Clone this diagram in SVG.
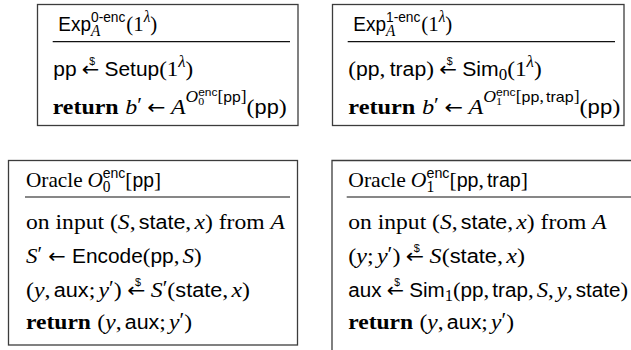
<svg xmlns="http://www.w3.org/2000/svg" width="631" height="350" viewBox="0 0 631 350">
<style>
.box{fill:none;stroke:#3c3c3c;stroke-width:1.3}
.sep{stroke:#111;stroke-width:1.2}
text{font-family:"Liberation Serif","DejaVu Serif",serif;font-size:22px;fill:#000}
.r{font-family:"Liberation Serif","DejaVu Serif",serif}
.i{font-family:"Liberation Serif","DejaVu Serif",serif;font-style:italic}
.b{font-family:"Liberation Serif","DejaVu Serif",serif;font-weight:bold}
.s{font-family:"Liberation Sans","DejaVu Sans",sans-serif;font-size:20px}
.ar{font-family:"DejaVu Sans",sans-serif;font-size:20px}
.d{font-family:"Liberation Sans","DejaVu Sans",sans-serif;font-size:10px}
.pr{font-family:"Liberation Serif","DejaVu Serif",serif;font-size:20px}
.sc{font-size:16px}
.ss{font-size:14.5px}
.sss{font-size:11px}
</style>
<rect width="631" height="350" fill="#fff"/>
<g id="exp0">
<rect class="box" x="37.5" y="4.5" width="260.5" height="121"/>
<line class="sep" x1="52.7" y1="41.7" x2="290" y2="41.7"/>
<text x="58.3" y="31" textLength="99" lengthAdjust="spacingAndGlyphs"><tspan class="s">Exp</tspan><tspan class="i sc" dy="5">A</tspan><tspan class="s ss" dx="-9.8" dy="-14">0-enc</tspan><tspan class="r" dx="1" dy="9">(1</tspan><tspan class="i sc" dy="-9">λ</tspan><tspan class="r" dy="9">)</tspan></text>
<text x="53.3" y="76" textLength="140" lengthAdjust="spacingAndGlyphs"><tspan class="s">pp</tspan><tspan class="ar" dx="5">←</tspan><tspan class="d" dx="-9.6" dy="-11">$</tspan><tspan class="s" dx="9" dy="11">Setup</tspan><tspan class="r">(1</tspan><tspan class="i sc" dy="-9">λ</tspan><tspan class="r" dy="9">)</tspan></text>
<text x="52.7" y="114" textLength="234" lengthAdjust="spacingAndGlyphs"><tspan class="b">return</tspan><tspan class="i" dx="6">b</tspan><tspan class="pr" dy="-2">′</tspan><tspan class="ar" dx="5" dy="2">←</tspan><tspan class="i" dx="5">A</tspan><tspan class="i sc" dy="-12">O</tspan><tspan class="r sss" dy="3">0</tspan><tspan class="s sss" dx="-5.5" dy="-9">enc</tspan><tspan class="r sc" dy="6">[</tspan><tspan class="s ss">pp</tspan><tspan class="r sc">]</tspan><tspan class="r" dy="12">(</tspan><tspan class="s">pp</tspan><tspan class="r">)</tspan></text>
</g>
<g id="exp1">
<rect class="box" x="332.5" y="4.5" width="291.5" height="121"/>
<line class="sep" x1="347.7" y1="41.7" x2="615" y2="41.7"/>
<text x="353.3" y="31" textLength="99" lengthAdjust="spacingAndGlyphs"><tspan class="s">Exp</tspan><tspan class="i sc" dy="5">A</tspan><tspan class="s ss" dx="-9.8" dy="-14">1-enc</tspan><tspan class="r" dx="1" dy="9">(1</tspan><tspan class="i sc" dy="-9">λ</tspan><tspan class="r" dy="9">)</tspan></text>
<text x="348.3" y="76" textLength="193.4" lengthAdjust="spacingAndGlyphs"><tspan class="r">(</tspan><tspan class="s">pp</tspan><tspan class="r">,</tspan><tspan class="s" dx="4">trap</tspan><tspan class="r">)</tspan><tspan class="ar" dx="5">←</tspan><tspan class="d" dx="-9.6" dy="-11">$</tspan><tspan class="s" dx="9" dy="11">Sim</tspan><tspan class="r sc" dy="4">0</tspan><tspan class="r" dy="-4">(1</tspan><tspan class="i sc" dy="-9">λ</tspan><tspan class="r" dy="9">)</tspan></text>
<text x="348.3" y="114" textLength="272" lengthAdjust="spacingAndGlyphs"><tspan class="b">return</tspan><tspan class="i" dx="6">b</tspan><tspan class="pr" dy="-2">′</tspan><tspan class="ar" dx="5" dy="2">←</tspan><tspan class="i" dx="5">A</tspan><tspan class="i sc" dy="-12">O</tspan><tspan class="r sss" dy="3">1</tspan><tspan class="s sss" dx="-5.5" dy="-9">enc</tspan><tspan class="r sc" dy="6">[</tspan><tspan class="s ss">pp</tspan><tspan class="r sc">,</tspan><tspan class="s ss" dx="2">trap</tspan><tspan class="r sc">]</tspan><tspan class="r" dy="12">(</tspan><tspan class="s">pp</tspan><tspan class="r">)</tspan></text>
</g>
<g id="oracle0">
<rect class="box" x="8.5" y="160.5" width="289" height="184.5"/>
<line class="sep" x1="25" y1="197" x2="290" y2="197"/>
<text x="26" y="187" textLength="135" lengthAdjust="spacingAndGlyphs"><tspan class="r">Oracle</tspan><tspan class="i" dx="5">O</tspan><tspan class="r sc" dy="5">0</tspan><tspan class="s ss" dx="-8" dy="-14">enc</tspan><tspan class="r" dy="9">[</tspan><tspan class="s">pp</tspan><tspan class="r">]</tspan></text>
<text x="26" y="229" textLength="259" lengthAdjust="spacingAndGlyphs"><tspan class="r">on input (</tspan><tspan class="i">S</tspan><tspan class="r">,</tspan><tspan class="s" dx="3">state</tspan><tspan class="r">,</tspan><tspan class="i" dx="3">x</tspan><tspan class="r">) from </tspan><tspan class="i">A</tspan></text>
<text x="26" y="263" textLength="175.7" lengthAdjust="spacingAndGlyphs"><tspan class="i">S</tspan><tspan class="pr" dy="-2">′</tspan><tspan class="ar" dx="6" dy="2">←</tspan><tspan class="s" dx="6">Encode</tspan><tspan class="r">(</tspan><tspan class="s">pp</tspan><tspan class="r">,</tspan><tspan class="i" dx="3">S</tspan><tspan class="r">)</tspan></text>
<text x="26" y="297" textLength="224" lengthAdjust="spacingAndGlyphs"><tspan class="r">(</tspan><tspan class="i">y</tspan><tspan class="r">,</tspan><tspan class="s" dx="3">aux</tspan><tspan class="r">;</tspan><tspan class="i" dx="3">y</tspan><tspan class="pr" dy="-2">′</tspan><tspan class="r" dy="2">)</tspan><tspan class="ar" dx="5">←</tspan><tspan class="d" dx="-9.6" dy="-11">$</tspan><tspan class="i" dx="9" dy="11">S</tspan><tspan class="pr" dy="-2">′</tspan><tspan class="r" dy="2">(</tspan><tspan class="s">state</tspan><tspan class="r">,</tspan><tspan class="i" dx="3">x</tspan><tspan class="r">)</tspan></text>
<text x="26" y="329" textLength="166" lengthAdjust="spacingAndGlyphs"><tspan class="b">return</tspan><tspan class="r" dx="6">(</tspan><tspan class="i">y</tspan><tspan class="r">,</tspan><tspan class="s" dx="3">aux</tspan><tspan class="r">;</tspan><tspan class="i" dx="3">y</tspan><tspan class="pr" dy="-2">′</tspan><tspan class="r" dy="2">)</tspan></text>
</g>
<g id="oracle1">
<path class="box" d="M332,350 V160.5 H631"/>
<line class="sep" x1="346.7" y1="197" x2="631" y2="197"/>
<text x="348.3" y="187" textLength="179.7" lengthAdjust="spacingAndGlyphs"><tspan class="r">Oracle</tspan><tspan class="i" dx="5">O</tspan><tspan class="r sc" dy="5">1</tspan><tspan class="s ss" dx="-8" dy="-14">enc</tspan><tspan class="r" dy="9">[</tspan><tspan class="s">pp</tspan><tspan class="r">,</tspan><tspan class="s" dx="3">trap</tspan><tspan class="r">]</tspan></text>
<text x="348.3" y="229" textLength="258.4" lengthAdjust="spacingAndGlyphs"><tspan class="r">on input (</tspan><tspan class="i">S</tspan><tspan class="r">,</tspan><tspan class="s" dx="3">state</tspan><tspan class="r">,</tspan><tspan class="i" dx="3">x</tspan><tspan class="r">) from </tspan><tspan class="i">A</tspan></text>
<text x="348.3" y="263" textLength="176.7" lengthAdjust="spacingAndGlyphs"><tspan class="r">(</tspan><tspan class="i">y</tspan><tspan class="r">;</tspan><tspan class="i" dx="3">y</tspan><tspan class="pr" dy="-2">′</tspan><tspan class="r" dy="2">)</tspan><tspan class="ar" dx="5">←</tspan><tspan class="d" dx="-9.6" dy="-11">$</tspan><tspan class="i" dx="9" dy="11">S</tspan><tspan class="r">(</tspan><tspan class="s">state</tspan><tspan class="r">,</tspan><tspan class="i" dx="3">x</tspan><tspan class="r">)</tspan></text>
<text x="348.3" y="297" textLength="279.7" lengthAdjust="spacingAndGlyphs"><tspan class="s">aux</tspan><tspan class="ar" dx="5">←</tspan><tspan class="d" dx="-9.6" dy="-11">$</tspan><tspan class="s" dx="9" dy="11">Sim</tspan><tspan class="r sc" dy="4">1</tspan><tspan class="r" dy="-4">(</tspan><tspan class="s">pp</tspan><tspan class="r">,</tspan><tspan class="s" dx="3">trap</tspan><tspan class="r">,</tspan><tspan class="i" dx="3">S</tspan><tspan class="r">,</tspan><tspan class="i" dx="3">y</tspan><tspan class="r">,</tspan><tspan class="s" dx="3">state</tspan><tspan class="r">)</tspan></text>
<text x="348.3" y="329" textLength="165.7" lengthAdjust="spacingAndGlyphs"><tspan class="b">return</tspan><tspan class="r" dx="6">(</tspan><tspan class="i">y</tspan><tspan class="r">,</tspan><tspan class="s" dx="3">aux</tspan><tspan class="r">;</tspan><tspan class="i" dx="3">y</tspan><tspan class="pr" dy="-2">′</tspan><tspan class="r" dy="2">)</tspan></text>
</g>
<g id="connectors"/>
</svg>
